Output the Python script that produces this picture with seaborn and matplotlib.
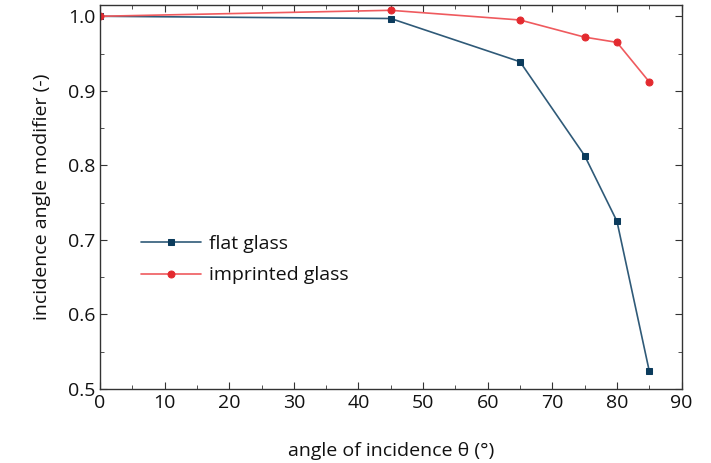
import matplotlib
matplotlib.use("Agg")
import matplotlib.pyplot as plt
import seaborn as sns
import pandas as pd
from matplotlib.ticker import MultipleLocator

angles = [0, 45, 65, 75, 80, 85]
flat_glass = [1.000, 0.997, 0.939, 0.813, 0.725, 0.524]
imprinted_glass = [1.000, 1.008, 0.995, 0.972, 0.965, 0.912]
x_ticks = [0, 10, 20, 30, 40, 50, 60, 70, 80, 90]
y_ticks = [0.5, 0.6, 0.7, 0.8, 0.9, 1.0]

sns.set_style("ticks")
plt.rcParams['font.family'] = ['Open Sans', 'DejaVu Sans']

df = pd.concat([
    pd.DataFrame({"angle": angles, "iam": flat_glass, "series": "flat glass"}),
    pd.DataFrame({"angle": angles, "iam": imprinted_glass, "series": "imprinted glass"}),
])

fig = plt.figure(figsize=(7.11, 4.63), dpi=100)
ax = fig.add_axes([0.1406, 0.16, 0.818, 0.829])

sns.lineplot(data=df[df.series == "flat glass"], x="angle", y="iam", ax=ax,
             color="#2f5a78", lw=1.2, marker="s", markersize=4.5,
             markerfacecolor="#0b3b5c", markeredgecolor="#0b3b5c", label="flat glass")
sns.lineplot(data=df[df.series == "imprinted glass"], x="angle", y="iam", ax=ax,
             color="#ef5a5e", lw=1.2, marker="o", markersize=5,
             markerfacecolor="#e32a2f", markeredgecolor="#e32a2f", label="imprinted glass")

ax.set_xlim(0, 90)
ax.set_ylim(0.5, 1.015)
ax.set_xticks(x_ticks)
ax.set_yticks(y_ticks)
ax.set_yticklabels([f"{v:.1f}" for v in y_ticks])
ax.xaxis.set_minor_locator(MultipleLocator(5))
ax.yaxis.set_minor_locator(MultipleLocator(0.05))
ax.tick_params(which="both", direction="in", top=True, right=True,
               labelsize=14, color="#333333", labelcolor="#111111")
ax.tick_params(which="major", length=5)
ax.tick_params(which="minor", length=3)
for s in ax.spines.values():
    s.set_color("#333333")
    s.set_linewidth(1.0)

ax.set_xlabel("angle of incidence θ (°)", fontsize=14, labelpad=22, color="#111111")
ax.set_ylabel("incidence angle modifier (-)", fontsize=14, labelpad=12, color="#111111")

ax.legend(loc="upper left", bbox_to_anchor=(0.04, 0.447), frameon=False,
          fontsize=14, handlelength=3.1, handletextpad=0.4, labelspacing=0.7,
          labelcolor="#111111")

fig.savefig("out.png", dpi=100)
